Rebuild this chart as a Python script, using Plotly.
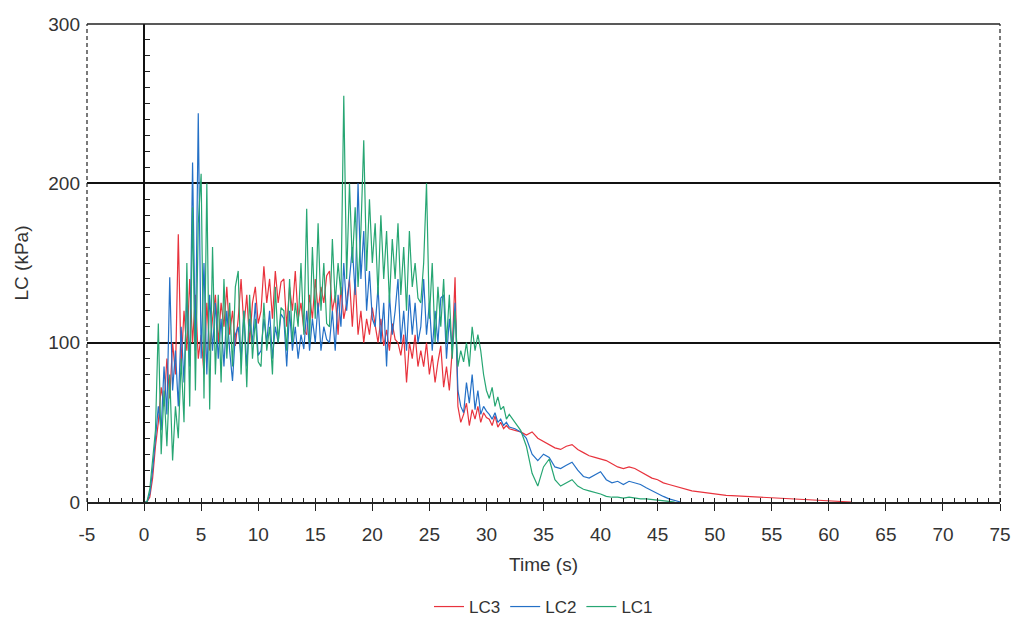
import numpy as np
import plotly.graph_objects as go

# ---------------- data ----------------
# fine sampling 0..32 s every 0.25 s, then 0.5 s steps
t_fine = [round(v, 2) for v in np.arange(0, 32.001, 0.25)]
t_tail = [round(v, 2) for v in np.arange(32.5, 62.001, 0.5)]

lc3_fine = [0, 0, 3, 15, 35,
            50, 72, 60, 90, 65, 100, 80, 168,
            85, 120, 95, 140, 100, 130, 90,
            105, 80, 125, 95, 115,
            130, 100, 125, 110, 135, 105, 120, 98,
            115, 140, 110, 130, 100, 125, 135, 112,
            120, 148, 125, 140, 115, 145, 125, 138,
            140, 110, 135, 120, 145, 115, 125, 108,
            105, 130, 115, 140, 120, 135, 125, 142,
            145, 120, 130, 105, 135, 115, 125, 140,
            110, 140, 105, 120, 100, 115, 105, 122,
            110, 100, 115, 98, 108, 95, 112, 102,
            100, 92, 105, 75, 100, 90, 105, 85,
            95, 85, 100, 80, 92, 75, 88, 98,
            72, 85, 70, 95, 141, 60, 50, 55,
            62, 48, 58, 52, 60, 50, 56, 53,
            52, 48, 54, 47, 50, 46, 48, 46]
lc3_tail = [45, 44, 42, 44, 40, 38, 36, 34, 33, 35, 36, 33, 31, 29, 28, 27, 26, 24, 22, 21,
            22, 21, 19, 17, 15, 14, 12, 11, 10, 9, 8, 7, 6.5, 6, 5.5, 5, 4.6, 4.2, 4, 3.8,
            3.5, 3.3, 3, 2.8, 2.6, 2.5, 2.3, 2, 1.8, 1.6, 1.5, 1.3, 1.2, 1, 0.9, 0.8, 0.6, 0.4, 0.2, 0]

lc2_fine = [0, 0, 5, 20, 40,
            60, 45, 85, 55, 141, 70, 95, 60,
            110, 75, 130, 85, 213, 95, 244,
            90, 150, 80, 130, 95,
            125, 90, 115, 85, 120, 95, 76, 105,
            110, 90, 120, 85, 115, 100, 125, 92,
            95, 115, 100, 120, 90, 110, 100, 118,
            115, 85, 120, 95, 110, 90, 105, 96,
            120, 95, 115, 100, 125, 95, 110, 102,
            100, 120, 95, 130, 110, 150, 120, 140,
            160, 130, 200, 140, 170, 120, 145, 115,
            110, 135, 100, 125, 85, 130, 105, 120,
            140, 100, 120, 95, 130, 105, 125, 100,
            110, 140, 105, 125, 95, 120, 100, 128,
            130, 90, 115, 95, 125, 70, 60, 56,
            75, 62, 80, 58, 70, 55, 60, 57,
            55, 52, 56, 50, 52, 48, 50, 47]
lc2_tail = [46, 44, 40, 30, 26, 30, 28, 22, 21, 23, 25, 20, 16, 15, 17, 19, 14, 12, 13, 11,
            13, 12, 11, 9, 7, 5, 3.5, 2, 1, 0]

lc1_fine = [0, 0, 8, 25, 45,
            112, 30, 70, 35, 80, 26, 60, 40,
            90, 50, 150, 60, 185, 70, 175,
            206, 65, 200, 58, 160,
            80, 130, 75, 140, 90, 125, 85, 135,
            145, 80, 120, 72, 130, 90, 115, 88,
            85, 125, 95, 110, 80, 135, 100, 122,
            120, 95, 140, 100, 125, 110, 150, 105,
            184, 100, 160, 115, 175, 120, 150, 112,
            110, 165, 125, 150, 130, 255, 140, 200,
            150, 185, 135, 170, 227, 145, 190, 150,
            175, 130, 180, 140, 170, 125, 165, 140,
            175, 130, 160, 120, 170, 135, 150, 128,
            125, 150, 200, 115, 150, 100, 135, 110,
            140, 100, 130, 90, 120, 85, 95, 88,
            100, 85, 110, 95, 105, 95, 80, 70,
            65, 72, 60, 66, 58, 60, 52, 55]
lc1_tail = [50, 45, 35, 18, 10, 22, 27, 14, 10, 12, 14, 10, 8, 7, 6, 5, 3.5, 3, 3, 2.5,
            3, 2.5, 2, 2, 1.5, 1, 0.8, 0.4, 0]

series_names = ["LC3", "LC2", "LC1"]
series_colors = ["#e8333d", "#2470c6", "#27a673"]

x_ticks = list(range(-5, 80, 5))
x_ticktext = [str(v) for v in x_ticks]
y_ticks = [0, 100, 200, 300]

# ---------------- figure ----------------
fig = go.Figure()
for name, col, fine, tail in [
    (series_names[0], series_colors[0], lc3_fine, lc3_tail),
    (series_names[1], series_colors[1], lc2_fine, lc2_tail),
    (series_names[2], series_colors[2], lc1_fine, lc1_tail),
]:
    xs = t_fine + t_tail[:len(tail)]
    ys = fine + tail
    fig.add_trace(go.Scatter(x=xs, y=ys, mode="lines", name=name,
                             line=dict(color=col, width=1.2)))

# dummy trace so the inner y axis (at x = 0) is drawn
fig.add_trace(go.Scatter(x=[None], y=[None], yaxis="y2", showlegend=False, hoverinfo="skip"))

font_family = "Liberation Sans, Arial, sans-serif"

fig.update_layout(
    width=1013, height=623,
    margin=dict(l=87, r=13, t=24, b=121, autoexpand=False),
    paper_bgcolor="white", plot_bgcolor="white",
    font=dict(family=font_family, size=19, color="#333"),
    showlegend=True,
    legend=dict(orientation="h", x=0.5, xanchor="center", yref="container",
                y=16 / 623, yanchor="middle",
                font=dict(size=17), itemwidth=30, tracegroupgap=0),
    xaxis=dict(range=[-5, 75], tickvals=x_ticks, ticktext=x_ticktext, ticks="outside",
               ticklen=7, tickwidth=1.3, automargin=False,
               tickcolor="#222", showline=True, linecolor="#222", linewidth=1.5,
               showgrid=False, zeroline=False, ticklabelstandoff=7,
               minor=dict(dtick=1, ticks="inside", ticklen=4, tickcolor="#222", tickwidth=1),
               title=dict(text="Time (s)", standoff=14, font=dict(size=19))),
    yaxis=dict(range=[0, 300], tickvals=y_ticks, ticks="", showline=False, automargin=False,
               showgrid=True, gridcolor="#111", gridwidth=1.5, zeroline=False,
               ticklabelstandoff=6,
               title=dict(text="LC (kPa)", standoff=14, font=dict(size=19))),
    yaxis2=dict(range=[0, 300], overlaying="y", anchor="free", position=5 / 80,
                side="left", showline=True, linecolor="#111", linewidth=1.5,
                dtick=10, ticks="inside", ticklen=5, tickcolor="#222",
                showticklabels=False, showgrid=False, zeroline=False),
)

# dashed frame (left, right) and top border
fig.add_shape(type="line", xref="paper", yref="paper", x0=0, x1=0, y0=0, y1=1,
              line=dict(color="#222", width=1.2, dash="4px,3px"))
fig.add_shape(type="line", xref="paper", yref="paper", x0=1, x1=1, y0=0, y1=1,
              line=dict(color="#222", width=1.2, dash="4px,3px"))
fig.add_shape(type="line", xref="paper", yref="paper", x0=0, x1=1, y0=1, y1=1,
              line=dict(color="#222", width=1.3))

fig.write_html("out.html")
